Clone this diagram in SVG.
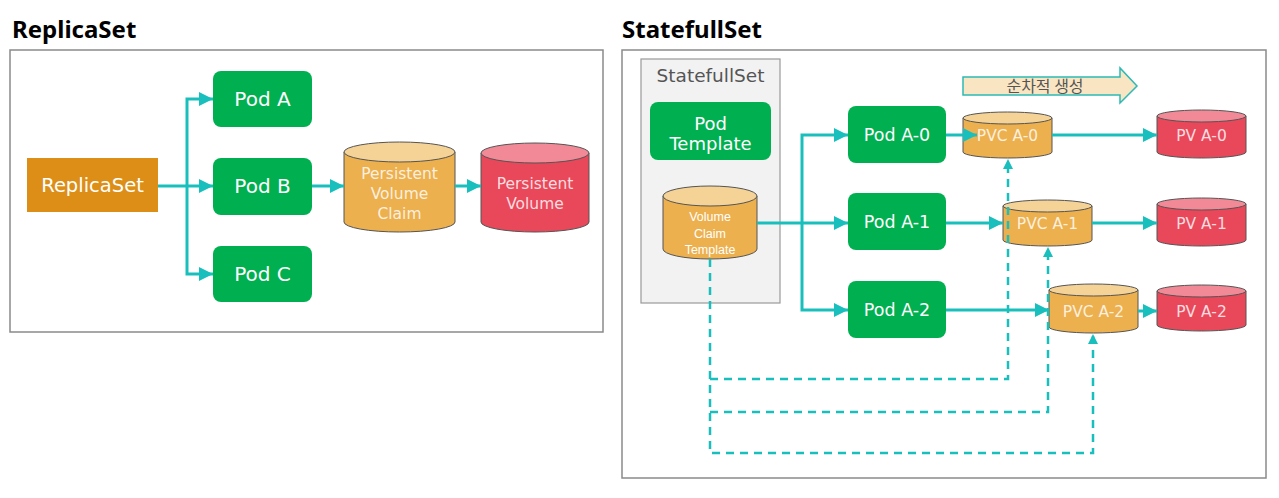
<svg xmlns="http://www.w3.org/2000/svg" width="1279" height="498" viewBox="0 0 1279 498">
<style>
.title{font-family:"Noto Sans","Open Sans",sans-serif;font-weight:bold;font-size:24px;fill:#000}
.frame{fill:#fff;stroke:#8a8a8a;stroke-width:1.5}
.pod{fill:#00B050}
.t{font-family:"DejaVu Sans","Liberation Sans",sans-serif;fill:#fff;text-anchor:middle}
.pvc{fill:#EDB04E;stroke:#555;stroke-width:1}
.pvctop{fill:#F5D295;stroke:#555;stroke-width:1}
.pv{fill:#E9485B;stroke:#555;stroke-width:1}
.pvtop{fill:#F18A96;stroke:#555;stroke-width:1}
.soft{fill:#fff;fill-opacity:0.82}
.c{fill:none;stroke:#19BFBC;stroke-width:3}
.d{fill:none;stroke:#19BFBC;stroke-width:2.5;stroke-dasharray:8 6}
</style>
<defs>
<marker id="ah" markerUnits="userSpaceOnUse" markerWidth="14" markerHeight="14" refX="14" refY="7" orient="auto"><path d="M0,0 L14,7 L0,14 z" fill="#19BFBC"/></marker>
<marker id="ahs" markerUnits="userSpaceOnUse" markerWidth="10" markerHeight="10" refX="10" refY="5" orient="auto"><path d="M0,0 L10,5 L0,10 z" fill="#19BFBC"/></marker>
</defs>

<text class="title" x="12" y="38">ReplicaSet</text>
<rect class="frame" x="10" y="50" width="593" height="282"/>
<text class="title" x="622" y="38">StatefullSet</text>
<rect class="frame" x="622" y="50" width="644" height="428"/>

<g id="replicaset"><rect x="27" y="158" width="131" height="54" fill="#DC8E17"/><text class="t" x="92.5" y="192" font-size="19.5">ReplicaSet</text></g>
<g id="podA"><rect class="pod" x="213" y="71" width="99" height="56" rx="8"/><text class="t" x="262.5" y="106" font-size="20">Pod A</text></g>
<g id="podB"><rect class="pod" x="213" y="158" width="99" height="57" rx="8"/><text class="t" x="262.5" y="193" font-size="20">Pod B</text></g>
<g id="podC"><rect class="pod" x="213" y="246" width="99" height="56" rx="8"/><text class="t" x="262.5" y="281" font-size="20">Pod C</text></g>
<g id="pvc"><path class="pvc" d="M344,152 V222 A55.5,10 0 0 0 455,222 V152 z"/><ellipse class="pvctop" cx="399.5" cy="152" rx="55.5" ry="10"/>
<text class="t soft" x="399.5" y="179" font-size="15.5">Persistent</text><text class="t soft" x="399.5" y="199" font-size="15.5">Volume</text><text class="t soft" x="399.5" y="219" font-size="15.5">Claim</text></g>
<g id="pv"><path class="pv" d="M481,153 V222 A54,10 0 0 0 589,222 V153 z"/><ellipse class="pvtop" cx="535" cy="153" rx="54" ry="10"/>
<text class="t soft" x="535" y="189" font-size="15.5">Persistent</text><text class="t soft" x="535" y="209" font-size="15.5">Volume</text></g>

<g id="statefulset"><rect x="641" y="59" width="139" height="244" fill="#F2F2F2" stroke="#999" stroke-width="1.2"/><text x="710.5" y="82" font-family="DejaVu Sans,Liberation Sans,sans-serif" font-size="18.5" fill="#555" text-anchor="middle">StatefullSet</text></g>
<g id="podTemplate"><rect class="pod" x="650" y="102" width="121" height="58" rx="8"/><text class="t" x="710.5" y="130" font-size="18">Pod</text><text class="t" x="710.5" y="150" font-size="18">Template</text></g>
<g id="vct"><path class="pvc" d="M663,196 V249 A47,10 0 0 0 757,249 V196 z"/><ellipse class="pvctop" cx="710" cy="196" rx="47" ry="10"/>
<text x="710" y="221" font-family="Liberation Sans,Arial,sans-serif" font-size="12.5" fill="#fff" text-anchor="middle">Volume</text><text x="710" y="238" font-family="Liberation Sans,Arial,sans-serif" font-size="12.5" fill="#fff" text-anchor="middle">Claim</text><text x="710" y="254" font-family="Liberation Sans,Arial,sans-serif" font-size="12.5" fill="#fff" text-anchor="middle">Template</text></g>

<g id="podA0"><rect class="pod" x="848" y="106" width="98" height="57" rx="8"/><text class="t" x="897" y="141" font-size="17.5">Pod A-0</text></g>
<g id="podA1"><rect class="pod" x="848" y="193" width="98" height="57" rx="8"/><text class="t" x="897" y="228" font-size="17.5">Pod A-1</text></g>
<g id="podA2"><rect class="pod" x="848" y="281" width="98" height="57" rx="8"/><text class="t" x="897" y="316" font-size="17.5">Pod A-2</text></g>

<g id="banner"><polygon points="963,77 1120,77 1120,68 1137,86 1120,103 1120,95 963,95" fill="#FAE5C3" stroke="#2BBAB5" stroke-width="1.5"/><text x="1045" y="92" font-family="Noto Sans CJK KR,sans-serif" font-size="16" fill="#555" text-anchor="middle">순차적 생성</text></g>

<g id="pvcA0"><path class="pvc" d="M963,118 V152 A44.5,6 0 0 0 1052,152 V118 z"/><ellipse class="pvctop" cx="1007.5" cy="118" rx="44.5" ry="6"/><text class="t soft" x="1007.5" y="141" font-size="15.5">PVC A-0</text></g>
<g id="pvcA1"><path class="pvc" d="M1003,206 V240 A44.5,6 0 0 0 1092,240 V206 z"/><ellipse class="pvctop" cx="1047.5" cy="206" rx="44.5" ry="6"/><text class="t soft" x="1047.5" y="229" font-size="15.5">PVC A-1</text></g>
<g id="pvcA2"><path class="pvc" d="M1049,290 V327 A44.5,6 0 0 0 1138,327 V290 z"/><ellipse class="pvctop" cx="1093.5" cy="290" rx="44.5" ry="6"/><text class="t soft" x="1093.5" y="317" font-size="15.5">PVC A-2</text></g>
<g id="pvA0"><path class="pv" d="M1157,116 V152 A44.5,6 0 0 0 1246,152 V116 z"/><ellipse class="pvtop" cx="1201.5" cy="116" rx="44.5" ry="6"/><text class="t soft" x="1201.5" y="141" font-size="15.5">PV A-0</text></g>
<g id="pvA1"><path class="pv" d="M1157,204 V240 A44.5,6 0 0 0 1246,240 V204 z"/><ellipse class="pvtop" cx="1201.5" cy="204" rx="44.5" ry="6"/><text class="t soft" x="1201.5" y="229" font-size="15.5">PV A-1</text></g>
<g id="pvA2"><path class="pv" d="M1157,291 V325 A44.5,6 0 0 0 1246,325 V291 z"/><ellipse class="pvtop" cx="1201.5" cy="291" rx="44.5" ry="6"/><text class="t soft" x="1201.5" y="317" font-size="15.5">PV A-2</text></g>

<g id="connectors">
<path class="c" d="M158,186 H213" marker-end="url(#ah)"/>
<path class="c" d="M187,186 V99 H213" marker-end="url(#ah)"/>
<path class="c" d="M187,186 V274 H213" marker-end="url(#ah)"/>
<path class="c" d="M312,186 H344" marker-end="url(#ah)"/>
<path class="c" d="M455,186 H481" marker-end="url(#ah)"/>
<path class="c" d="M757,223 H848" marker-end="url(#ah)"/>
<path class="c" d="M802,223 V135 H848" marker-end="url(#ah)"/>
<path class="c" d="M802,223 V310 H848" marker-end="url(#ah)"/>
<path class="c" d="M946,135 H977" marker-end="url(#ah)"/>
<path class="c" d="M1052,135 H1157" marker-end="url(#ah)"/>
<path class="c" d="M946,223 H1003" marker-end="url(#ah)"/>
<path class="c" d="M1092,223 H1157" marker-end="url(#ah)"/>
<path class="c" d="M946,310 H1049" marker-end="url(#ah)"/>
<path class="c" d="M1138,311 H1157" marker-end="url(#ah)"/>
<path class="d" d="M710,259 V453 H1093 V334" marker-end="url(#ahs)"/>
<path class="d" d="M710,379 H1008 V159" marker-end="url(#ahs)"/>
<path class="d" d="M710,412 H1048 V247" marker-end="url(#ahs)"/>
</g>
</svg>
